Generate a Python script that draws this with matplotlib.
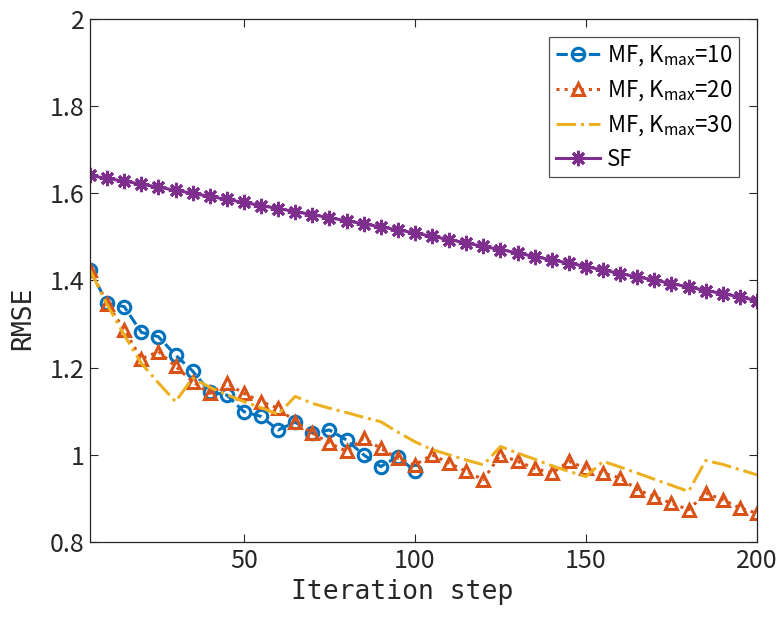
import numpy as np
import matplotlib
matplotlib.use('Agg')
import matplotlib.pyplot as plt

plt.rcParams['font.family'] = ['Noto Sans CJK JP', 'DejaVu Sans']
plt.rcParams['mathtext.fontset'] = 'custom'
plt.rcParams['mathtext.rm'] = 'Noto Sans CJK JP'
plt.rcParams['mathtext.it'] = 'Noto Sans CJK JP'

# iteration steps
steps_k10 = list(range(5, 101, 5))
steps_all = list(range(5, 201, 5))

mf_k10 = [1.424, 1.348, 1.340, 1.281, 1.271, 1.229, 1.192, 1.145, 1.137, 1.099,
          1.088, 1.057, 1.075, 1.050, 1.057, 1.034, 1.000, 0.973, 0.996, 0.962]

mf_k20 = [1.424, 1.347, 1.287, 1.220, 1.237, 1.203, 1.168, 1.141, 1.164, 1.141,
          1.122, 1.107, 1.076, 1.050, 1.027, 1.008, 1.038, 1.015, 0.992, 0.977,
          1.000, 0.981, 0.962, 0.943, 1.000, 0.985, 0.969, 0.958, 0.985, 0.969,
          0.958, 0.947, 0.920, 0.904, 0.889, 0.874, 0.912, 0.897, 0.878, 0.866]

mf_k30 = [1.424, 1.345, 1.275, 1.210, 1.165, 1.122, 1.176, 1.155, 1.138, 1.122,
          1.108, 1.093, 1.134, 1.118, 1.107, 1.097, 1.086, 1.076, 1.052, 1.030,
          1.012, 1.000, 0.988, 0.977, 1.019, 1.004, 0.990, 0.975, 0.962, 0.950,
          0.985, 0.972, 0.958, 0.944, 0.930, 0.916, 0.987, 0.978, 0.966, 0.954]

sf = [1.641, 1.634, 1.628, 1.621, 1.614, 1.607, 1.600, 1.593, 1.586, 1.579,
      1.572, 1.565, 1.558, 1.551, 1.544, 1.537, 1.530, 1.523, 1.516, 1.509,
      1.501, 1.494, 1.486, 1.478, 1.471, 1.463, 1.455, 1.447, 1.440, 1.432,
      1.424, 1.416, 1.408, 1.401, 1.393, 1.385, 1.377, 1.370, 1.362, 1.354]

fig = plt.figure(figsize=(7.8, 6.18), dpi=100)
ax = fig.add_axes([0.1154, 0.123, 0.8551, 0.8463])

ax.plot(steps_k10, mf_k10, '--o', color='#0072BD', lw=2.2, ms=9, mew=2.2,
        mfc='none', label=r'MF, K$_{\mathrm{max}}$=10')
ax.plot(steps_all, mf_k20, ':^', color='#D95319', lw=2.2, ms=9, mew=2.2,
        mfc='none', label=r'MF, K$_{\mathrm{max}}$=20')
ax.plot(steps_all, mf_k30, '-.', color='#EDB120', lw=2.2,
        label=r'MF, K$_{\mathrm{max}}$=30')
# asterisk marker like MATLAB '*'
ax.plot(steps_all, sf, '-', marker=(8, 2, 0), color='#7E2F8E', lw=2.2,
        ms=11, mew=2.2, label='SF')

ax.set_xlim(5, 200)
ax.set_ylim(0.8, 2)
ax.set_xticks([50, 100, 150, 200])
ax.set_yticks([0.8, 1, 1.2, 1.4, 1.6, 1.8, 2])
ax.set_yticklabels(['0.8', '1', '1.2', '1.4', '1.6', '1.8', '2'])
ax.tick_params(direction='in', top=True, right=True, labelsize=18,
               length=6, width=0.8, colors='#262626', pad=4)
for s in ax.spines.values():
    s.set_color('#262626')
    s.set_linewidth(0.9)

ax.set_xlabel('Iteration step', fontsize=19, color='#262626',
              family='DejaVu Sans Mono')
ax.set_ylabel('RMSE', fontsize=19, color='#262626',
              family='DejaVu Sans Mono')
ax.xaxis.set_label_coords(0.4685, -0.07)
ax.yaxis.set_label_coords(-0.081, 0.428)

leg = ax.legend(loc='upper right', fontsize=16, frameon=True, fancybox=False,
                edgecolor='#262626', handlelength=2.0, handletextpad=0.3,
                labelspacing=0.45, borderpad=0.3, borderaxespad=0.8)
leg.get_frame().set_linewidth(0.9)

fig.savefig('out.png', dpi=100)
